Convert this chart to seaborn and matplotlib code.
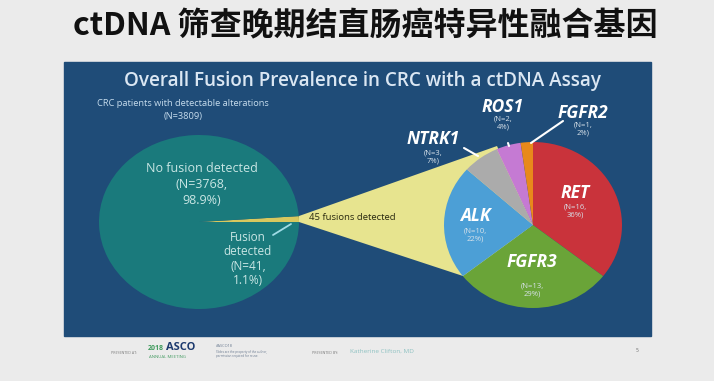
import matplotlib
matplotlib.use("Agg")
import matplotlib.pyplot as plt
import seaborn as sns
from matplotlib.patches import Rectangle, Polygon

# data
overview_labels = ["Fusion detected", "No fusion detected"]
overview_counts = [41, 3768]
overview_pct = [1.1, 98.9]
total_patients = 3809

fusion_genes = ["RET", "FGFR3", "ALK", "NTRK1", "ROS1", "FGFR2"]
fusion_counts = [16, 13, 10, 3, 2, 1]
fusion_pct = [36, 29, 22, 7, 4, 2]
total_fusions = 45

sns.set_theme(style="white")
gene_colors = ["#c9333b", "#6aa438", "#4c9fd6", "#ababab", "#c57ad3", "#e8891b"]
overview_colors = ["#d8c85e", "#1a7a7c"]
yellow = "#e7e48f"
panel_blue = "#1f4c78"

W, H = 714, 381
fig = plt.figure(figsize=(W / 100, H / 100), dpi=100, facecolor="#ebebeb")

bg = fig.add_axes([0, 0, 1, 1], zorder=0)
bg.set_xlim(0, W)
bg.set_ylim(H, 0)
bg.axis("off")


def pie_axes(cx, cy, rx, ry, z):
    ax = fig.add_axes([(cx - rx) / W, 1 - (cy + ry) / H, 2 * rx / W, 2 * ry / H], zorder=z)
    ax.patch.set_alpha(0)
    return ax


def finish(ax):
    ax.set_aspect("auto")
    ax.set_xlim(-1, 1)
    ax.set_ylim(-1, 1)
    ax.axis("off")


# slide background and blue panel
bg.add_patch(Rectangle((64, 62), 587, 274, color=panel_blue, zorder=1))
bg.add_patch(Polygon([(299, 216), (497, 146), (533, 225), (466, 277), (299, 222)],
                     closed=True, color=yellow, zorder=2, lw=0))

# overall pie
left = pie_axes(199, 222, 100, 87, 1)
left.pie(overview_counts, colors=overview_colors, startangle=0, counterclock=True,
         radius=1.0, wedgeprops=dict(linewidth=0))
finish(left)

# fusion breakdown pie
right = pie_axes(533, 225, 89, 83, 2)
right.pie(fusion_counts, colors=gene_colors, startangle=90, counterclock=False,
          radius=1.0, wedgeprops=dict(linewidth=0))
finish(right)

top = fig.add_axes([0, 0, 1, 1], zorder=3)
top.patch.set_alpha(0)
top.set_xlim(0, W)
top.set_ylim(H, 0)
top.axis("off")

cjk = ["Noto Sans CJK SC", "DejaVu Sans"]
sans = ["Open Sans", "DejaVu Sans"]

top.text(365, 26, "ctDNA 筛查晚期结直肠癌特异性融合基因", family=cjk, fontsize=23,
         fontweight="heavy", color="#111111", ha="center", va="center")
top.text(363, 81, "Overall Fusion Prevalence in CRC with a ctDNA Assay", family=sans,
         fontsize=13.6, fontweight="semibold", color="#dbe7f3", ha="center", va="center")

light = "#c6dced"
top.text(183, 103, "CRC patients with detectable alterations", family=sans, fontsize=6.7,
         color=light, ha="center", va="center")
top.text(183, 116, f"(N={total_patients})", family=sans, fontsize=6.7, color=light,
         ha="center", va="center")

teal_txt = "#c9e6e4"
top.text(202, 168, overview_labels[1], family=sans, fontsize=9, color=teal_txt,
         ha="center", va="center")
top.text(202, 184, f"(N={overview_counts[1]},", family=sans, fontsize=9, color=teal_txt,
         ha="center", va="center")
top.text(202, 200, f"{overview_pct[1]}%)", family=sans, fontsize=9, color=teal_txt,
         ha="center", va="center")
top.text(248, 259, "Fusion\ndetected\n" + f"(N={overview_counts[0]},\n{overview_pct[0]}%)",
         family=sans, fontsize=8.5, color=teal_txt, ha="center", va="center", linespacing=1.15)
top.plot([273, 291], [235, 224], color="#9fdce6", lw=1.3)

top.text(352, 218, f"{total_fusions} fusions detected", family=sans, fontsize=6.8,
         color="#2a2a10", ha="center", va="center")

# gene labels: (x, y) for name, offset for counts
label_pos = {
    "RET": (575, 193, 18),
    "FGFR3": (532, 262, 28),
    "ALK": (475, 216, 19),
    "NTRK1": (433, 139, 18),
    "ROS1": (503, 107, 16),
    "FGFR2": (583, 113, 16),
}
for gene, n, pct in zip(fusion_genes, fusion_counts, fusion_pct):
    x, y, dy = label_pos[gene]
    top.text(x, y, gene, family=sans, fontsize=12.5, fontweight="bold", fontstyle="italic",
             color="white", ha="center", va="center")
    top.text(x, y + dy, f"(N={n},\n{pct}%)", family=sans, fontsize=5.5, color="#d8e2ea",
             ha="center", va="center", linespacing=1.1)

top.plot([464, 478], [148, 156], color="white", lw=1.5)
top.plot([508, 509], [143, 146], color="white", lw=1.5)
top.plot([563, 531], [121, 143], color="white", lw=1.5)

# footer
top.text(124, 353, "PRESENTED AT:", family=sans, fontsize=2.6, color="#7a7a7a",
         ha="center", va="center")
top.text(148, 348, "2018", family=sans, fontsize=5, fontweight="bold", color="#3e9a5c",
         ha="left", va="center")
top.text(166, 348, "ASCO", family=sans, fontsize=8, fontweight="bold", color="#1d3a6e",
         ha="left", va="center")
top.text(149, 357, "ANNUAL MEETING", family=sans, fontsize=3.2, color="#4ea06a",
         ha="left", va="center")
top.text(216, 346, "#ASCO18", family=sans, fontsize=2.8, color="#6a7a90", ha="left", va="center")
top.text(216, 352, "Slides are the property of the author,", family=sans, fontsize=2.2,
         color="#6a7a90", ha="left", va="center")
top.text(216, 356, "permission required for reuse.", family=sans, fontsize=2.2,
         color="#6a7a90", ha="left", va="center")
top.text(325, 353, "PRESENTED BY:", family=sans, fontsize=2.6, color="#7a7a7a",
         ha="center", va="center")
top.text(350, 351, "Katherine Clifton, MD", family=sans, fontsize=4.6, color="#8ec2c2",
         ha="left", va="center")
top.text(637, 350, "5", family=sans, fontsize=3.5, color="#666666", ha="center", va="center")

fig.savefig("out.png", dpi=100, facecolor=fig.get_facecolor())
